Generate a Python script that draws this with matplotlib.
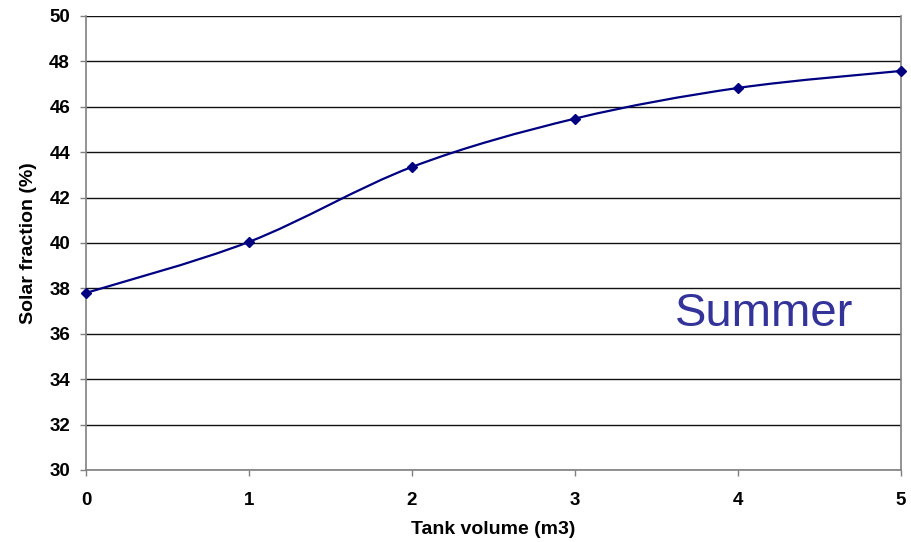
import numpy as np
import matplotlib
matplotlib.use('Agg')
from matplotlib import pyplot as plt
from matplotlib.path import Path
from matplotlib.patches import PathPatch

tank_volume = [0, 1, 2, 3, 4, 5]
solar_fraction = [37.8, 40.05, 43.35, 45.48, 46.83, 47.58]
y_ticks = [30, 32, 34, 36, 38, 40, 42, 44, 46, 48, 50]

plt.rcParams['font.family'] = ['Liberation Sans', 'DejaVu Sans']

fig = plt.figure(figsize=(9.11, 5.42), dpi=100)
ax = fig.add_axes([86 / 911, 1 - 470 / 542, (901 - 86) / 911, (470 - 16) / 542])

# smoothed line like excel (catmull-rom as bezier)
x = np.array(tank_volume, dtype=float)
y = np.array(solar_fraction, dtype=float)
verts = [(x[0], y[0])]
codes = [Path.MOVETO]
for i in range(len(x) - 1):
    x0, y0 = (x[i - 1], y[i - 1]) if i > 0 else (x[i], y[i])
    x3, y3 = (x[i + 2], y[i + 2]) if i + 2 < len(x) else (x[i + 1], y[i + 1])
    c1 = (x[i] + (x[i + 1] - x0) / 6, y[i] + (y[i + 1] - y0) / 6)
    c2 = (x[i + 1] - (x3 - x[i]) / 6, y[i + 1] - (y3 - y[i]) / 6)
    verts += [c1, c2, (x[i + 1], y[i + 1])]
    codes += [Path.CURVE4] * 3
ax.add_patch(PathPatch(Path(verts, codes), facecolor='none', edgecolor='#000080', lw=1.6, zorder=3))
ax.plot(tank_volume, solar_fraction, linestyle='none', marker='D', markersize=5.5,
        color='#000080', zorder=4, clip_on=False)

ax.set_xlim(0, 5)
ax.set_ylim(30, 50)
ax.set_yticks(y_ticks)
ax.set_xticks(tank_volume)
ax.yaxis.grid(True, color='#111111', lw=1)
ax.set_axisbelow(True)
ax.spines['top'].set_visible(False)
for s in ['left', 'bottom', 'right']:
    ax.spines[s].set_color('#808080')
    ax.spines[s].set_linewidth(1.2)
ax.tick_params(axis='both', direction='out', length=4.5, color='#808080', width=1,
               labelsize=13.5)
ax.tick_params(axis='y', pad=7)
ax.tick_params(axis='x', pad=11)
for lbl in ax.get_xticklabels() + ax.get_yticklabels():
    lbl.set_fontweight('bold')

ax.set_ylabel('Solar fraction (%)', fontsize=14, fontweight='bold')
ax.set_xlabel('Tank volume (m3)', fontsize=14, fontweight='bold')
ax.yaxis.set_label_coords(-49 / 815, 0.5)
ax.xaxis.set_label_coords(0.5, -51 / 454)

ax.text(0.723, 0.317, 'Summer', transform=ax.transAxes, fontsize=34,
        color='#333399', ha='left', va='baseline')

fig.savefig('out.png', dpi=100)
